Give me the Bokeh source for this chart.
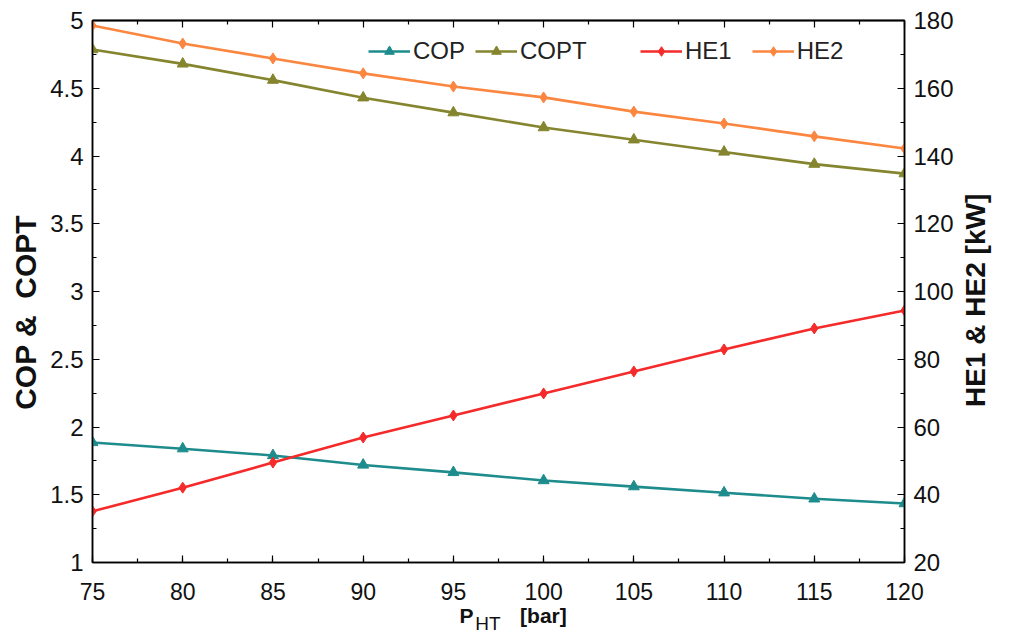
import math
from bokeh.plotting import figure
from bokeh.models import (Range1d, LinearAxis, SingleIntervalTicker, FixedTicker, Legend, LegendItem)
from bokeh.embed import file_html
from bokeh.resources import INLINE

p_ht = [75, 80, 85, 90, 95, 100, 105, 110, 115, 120]
cop = [1.886, 1.84, 1.79, 1.72, 1.665, 1.605, 1.56, 1.515, 1.47, 1.435]
copt = [4.786, 4.68, 4.56, 4.43, 4.32, 4.21, 4.12, 4.03, 3.94, 3.87]
he1 = [35.1, 42.1, 49.5, 56.9, 63.4, 69.9, 76.4, 82.9, 89.1, 94.4]
he2 = [178.5, 173.2, 168.8, 164.4, 160.5, 157.3, 153.1, 149.6, 145.8, 142.2]

x_major = [75, 80, 85, 90, 95, 100, 105, 110, 115, 120]
x_minor = [77.5, 82.5, 87.5, 92.5, 97.5, 102.5, 107.5, 112.5, 117.5]

C_COP = "#1e8c8c"
C_COPT = "#85852f"
C_HE1 = "#f52a2a"
C_HE2 = "#fb8640"
TXT = "#111111"
NB = "\u00a0"

W = 1009
p = figure(width=W, height=636, output_backend="svg", toolbar_location=None,
           x_range=Range1d(75, 120), y_range=Range1d(1, 5),
           min_border_left=92, min_border_right=102, min_border_top=20, min_border_bottom=74,
           x_axis_location=None, y_axis_location=None)
p.extra_y_ranges = {"kw": Range1d(20, 180)}
p.xgrid.visible = False
p.ygrid.visible = False
p.outline_line_color = "black"
p.outline_line_width = 1.5
p.background_fill_color = "white"
p.border_fill_color = "white"


def style(ax, interval, size="24px"):
    ax.ticker = SingleIntervalTicker(interval=interval, num_minor_ticks=2)
    ax.axis_line_color = "black"
    ax.axis_line_width = 1.5
    ax.major_tick_in = 7
    ax.major_tick_out = 0
    ax.minor_tick_in = 4
    ax.minor_tick_out = 0
    ax.major_tick_line_color = "black"
    ax.minor_tick_line_color = "black"
    ax.major_tick_line_width = 1.2
    ax.minor_tick_line_width = 1.2
    ax.major_label_text_font = "Liberation Sans"
    ax.major_label_text_font_size = size
    ax.major_label_text_color = TXT
    ax.axis_label_text_font = "Liberation Sans"
    ax.axis_label_text_font_style = "bold"
    ax.axis_label_text_color = TXT


# bottom axis: tick labels + title "P ... [bar]"
xb = LinearAxis(axis_label=NB * 5 + "P" + NB * 8 + "[bar]")
style(xb, 5, size="23px")
xb.major_label_standoff = 20
xb.axis_label_standoff = 1
xb.axis_label_text_font_size = "21px"
p.add_layout(xb, "below")

# helper axis that only carries the subscript "HT" of the x title
xh = LinearAxis(axis_label="HT" + NB * 4)
xh.ticker = FixedTicker(ticks=[])
xh.axis_line_color = None
xh.major_tick_line_color = None
xh.minor_tick_line_color = None
xh.major_tick_in = 0
xh.major_tick_out = 0
xh.major_label_standoff = 0
xh.axis_label_standoff = -17
xh.axis_label_text_font = "Liberation Sans"
xh.axis_label_text_font_style = "normal"
xh.axis_label_text_font_size = "19px"
xh.axis_label_text_color = TXT
p.add_layout(xh, "below")


def top_ticks(ticks, length):
    ax = LinearAxis(ticker=FixedTicker(ticks=[], minor_ticks=ticks))
    ax.axis_line_color = "black"
    ax.axis_line_width = 1.5
    ax.major_tick_in = 0
    ax.major_tick_out = 0
    ax.minor_tick_in = length
    ax.minor_tick_out = 0
    ax.minor_tick_line_color = "black"
    ax.minor_tick_line_width = 1.2
    ax.major_label_standoff = 0
    p.add_layout(ax, "above")


top_ticks(x_major, 7)
top_ticks(x_minor, 4)

yl = LinearAxis(axis_label="COP &" + NB + " COPT" + NB * 5)
style(yl, 0.5)
yl.major_label_standoff = 9
yl.axis_label_standoff = 5
yl.axis_label_text_font_size = "30px"
p.add_layout(yl, "left")

has_align = "axis_label_align" in LinearAxis.properties()
yr = LinearAxis(y_range_name="kw",
                axis_label=(NB * 20 if has_align else "") + "HE1 & HE2 [kW]")
style(yr, 20)
yr.major_label_standoff = 9
yr.axis_label_standoff = 19
yr.axis_label_text_font_size = "28px"
yr.axis_label_orientation = math.pi / 2
if has_align:
    yr.axis_label_align = "start"
p.add_layout(yr, "right")

lw = 2.6
r_cop_l = p.line(p_ht, cop, color=C_COP, line_width=lw)
r_cop_m = p.scatter(p_ht, cop, marker="triangle", size=11, color=C_COP)
r_copt_l = p.line(p_ht, copt, color=C_COPT, line_width=lw)
r_copt_m = p.scatter(p_ht, copt, marker="triangle", size=11, color=C_COPT)
r_he1_l = p.line(p_ht, he1, color=C_HE1, line_width=lw, y_range_name="kw")
r_he1_m = p.scatter(p_ht, he1, marker="diamond", size=11, color=C_HE1, y_range_name="kw")
r_he2_l = p.line(p_ht, he2, color=C_HE2, line_width=lw, y_range_name="kw")
r_he2_m = p.scatter(p_ht, he2, marker="diamond", size=11, color=C_HE2, y_range_name="kw")


def mk_legend(items, loc, spacing):
    lg = Legend(items=items, location=loc, orientation="horizontal",
                border_line_alpha=0, background_fill_alpha=0,
                padding=0, margin=0, spacing=spacing,
                glyph_width=42, glyph_height=24, label_standoff=3,
                label_text_font="Liberation Sans", label_text_font_size="24px",
                label_text_color="#222222", label_height=24)
    p.add_layout(lg, "center")


mk_legend([LegendItem(label="COP", renderers=[r_cop_l, r_cop_m]),
           LegendItem(label="COPT", renderers=[r_copt_l, r_copt_m])], (276, 497), 10)
mk_legend([LegendItem(label="HE1", renderers=[r_he1_l, r_he1_m]),
           LegendItem(label="HE2", renderers=[r_he2_l, r_he2_m])], (548, 497), 20)

open("out.html", "w").write(file_html(p, INLINE))
